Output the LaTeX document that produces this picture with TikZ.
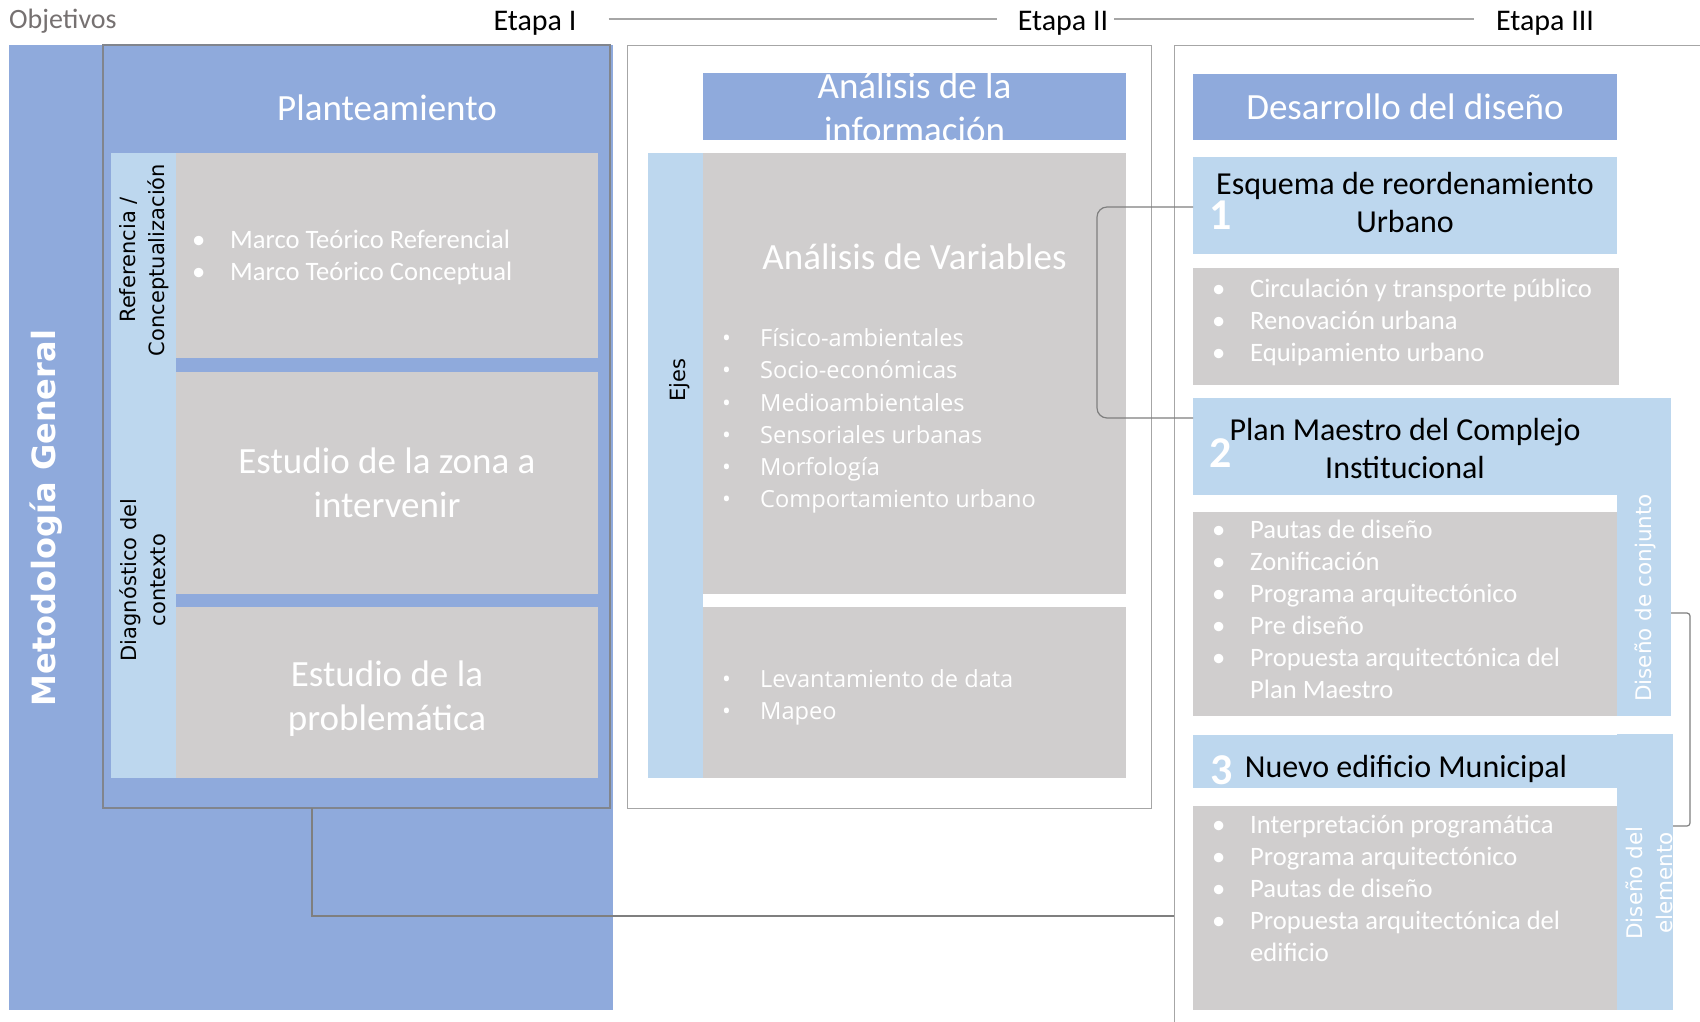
\documentclass[tikz,border=0pt]{standalone}
\usepackage{fontspec}
\usepackage{xcolor}
\usepackage{tikz}
\usetikzlibrary{positioning}
\setmainfont{Carlito}
\newfontfamily\dejavu{DejaVu Sans}
\newfontfamily\opensans{Open Sans}

\definecolor{azulfuerte}{HTML}{8FAADC}
\definecolor{azulclaro}{HTML}{BDD7EE}
\definecolor{grisbox}{HTML}{D0CECE}
\definecolor{grislinea}{HTML}{7F7F7F}
\definecolor{grismarco}{HTML}{A6A6A6}
\definecolor{grisobj}{HTML}{767171}

\newcommand{\tam}[2]{\fontsize{#1}{#2}\selectfont}
\newcommand{\itm}{\makebox[38pt][l]{•}}

\tikzset{
  caja/.style={rectangle, inner sep=0pt, outer sep=0pt},
  azul/.style={caja, fill=azulfuerte},
  celeste/.style={caja, fill=azulclaro},
  gris/.style={caja, fill=grisbox},
  titulo/.style={text=white, font=\tam{37}{44}, align=center},
  lista/.style={text=white, font=\tam{26.6}{32}, align=left, anchor=west, inner sep=0pt},
  lado/.style={rotate=90, font=\dejavu\tam{21}{29}, align=center, inner sep=0pt},
  etapa/.style={font=\tam{30}{36}, inner sep=0pt},
  numero/.style={text=white, font=\bfseries\tam{44}{44}, inner sep=0pt},
  conector/.style={draw=grislinea, line width=1.2pt},
  marco/.style={caja, draw=grismarco, line width=1pt},
}

\begin{document}
\begin{tikzpicture}[x=1pt, y=-1pt]
    \useasboundingbox (0,0) rectangle (1700,1021);
    \fill[white] (0,0) rectangle (1700,1021);

    % encabezado
    \node[etapa, text=grisobj, font=\tam{28}{34}, anchor=west] (objetivos) at (9,21) {Objetivos};
    \node[etapa] (t1) at (535,23) {Etapa I};
    \node[etapa] (t2) at (1063,23) {Etapa II};
    \node[etapa] (t3) at (1545,23) {Etapa III};
    \draw[grismarco, line width=1.5pt] ([xshift=32pt,yshift=4pt]t1.east) -- ([xshift=-21pt,yshift=4pt]t2.west);
    \draw[grismarco, line width=1.5pt] ([xshift=6pt,yshift=4pt]t2.east) -- ([xshift=-22pt,yshift=4pt]t3.west);

    % Etapa I
    \node[azul, minimum width=604pt, minimum height=965pt] (metodologia) at (311,527.5) {};
    \node[lado, text=white, font=\dejavu\bfseries\tam{32}{38}] (metodo) at (46,518) {Metodología General};
    \node[caja, draw=grislinea!85!azulfuerte, line width=1.2pt, minimum width=507pt, minimum height=763pt] (etapa1) at (356.5,426.5) {};
    \node[titulo] (planteamiento) at (387,108) {Planteamiento};
    \node[celeste, minimum width=65pt, minimum height=625pt] (ladoI) at (143.5,465.5) {};
    \node[gris, minimum width=422pt, minimum height=205pt] (marco) at (387,255.5) {};
    \node[gris, titulo, minimum width=422pt, minimum height=222pt] (zona) at (387,483) {Estudio de la zona a\\intervenir};
    \node[gris, minimum width=422pt, minimum height=171pt] (problema) at (387,692.5) {};
    \node[titulo] (problematxt) at (387,699) {Estudio de la\\problemática};
    \node[lista] (marcolista) at (192,257) {\itm Marco Teórico Referencial\\ \itm Marco Teórico Conceptual};
    \node[lado] (referencia) at (144,260) {Referencia /\\Conceptualización};
    \node[lado] (diagnostico) at (143,580) {Diagnóstico del\\contexto};

    % Etapa II
    \node[marco, minimum width=524pt, minimum height=763pt] (etapa2) at (889,426.5) {};
    \node[azul, minimum width=423pt, minimum height=67pt] (analisis) at (914.5,106.5) {};
    \node[titulo] (analisistxt) at (914.5,108) {Análisis de la\\información};
    \node[celeste, minimum width=55pt, minimum height=625pt] (ejes) at (675.5,465.5) {};
    \node[lado] (ejestxt) at (680,380) {Ejes};
    \node[gris, minimum width=423pt, minimum height=441pt] (variables) at (914.5,373.5) {};
    \node[titulo] (variablestxt) at (914.5,257) {Análisis de Variables};
    \node[lista, font=\opensans\tam{23.6}{32.2}] (variableslista) at (722,421) {\itm Físico-ambientales\\ \itm Socio-económicas\\ \itm Medioambientales\\ \itm Sensoriales urbanas\\ \itm Morfología\\ \itm Comportamiento urbano};
    \node[gris, minimum width=423pt, minimum height=171pt] (levantamiento) at (914.5,692.5) {};
    \node[lista, font=\opensans\tam{23.6}{32}] (levantamientolista) at (722,697) {\itm Levantamiento de data\\ \itm Mapeo};

    % Etapa III
    \node[marco, minimum width=586pt, minimum height=1035pt] (etapa3) at (1467,562.5) {};
    \node[azul, titulo, minimum width=424pt, minimum height=66pt] (desarrollo) at (1405,107) {Desarrollo del diseño};
    \node[celeste, minimum width=424pt, minimum height=97pt] (esquema) at (1405,205.5) {};
    \node[align=center, font=\tam{32}{38}, inner sep=0pt] (esquematxt) at (1405,203) {Esquema de reordenamiento\\Urbano};
    \node[numero] (num1) at (1221,215) {1};
    \node[gris, minimum width=426pt, minimum height=117pt] (esquemalista) at (1406,326.5) {};
    \node[lista] (esquemaitems) at (1212,322) {\itm Circulación y transporte público\\ \itm Renovación urbana\\ \itm Equipamiento urbano};

    \node[celeste, minimum width=424pt, minimum height=97pt] (plan) at (1405,446.5) {};
    \node[align=center, font=\tam{32}{38}, inner sep=0pt] (plantxt) at (1405,448) {Plan Maestro del Complejo\\Institucional};
    \node[numero] (num2) at (1221,453) {2};
    \node[celeste, minimum width=54pt, minimum height=318pt] (conjunto) at (1644,557) {};
    \node[lado, text=white, font=\dejavu\tam{21.5}{29}] (conjuntotxt) at (1645,598) {Diseño de conjunto};
    \node[gris, minimum width=424pt, minimum height=204pt] (planlista) at (1405,614) {};
    \node[lista] (planitems) at (1212,609.5) {\itm Pautas de diseño\\ \itm Zonificación\\ \itm Programa arquitectónico\\ \itm Pre diseño\\ \itm Propuesta arquitectónica del\\ \hspace*{38pt}Plan Maestro};

    \node[celeste, minimum width=424pt, minimum height=53pt] (edificio) at (1405,761.5) {};
    \node[font=\tam{32}{38}, inner sep=0pt] (edificiotxt) at (1406,769) {Nuevo edificio Municipal};
    \node[numero] (num3) at (1222,770) {3};
    \node[celeste, minimum width=56pt, minimum height=276pt] (elemento) at (1645,872) {};
    \node[lado, text=white, font=\dejavu\tam{21.5}{30}] (elementotxt) at (1649,883) {Diseño del\\elemento};
    \node[gris, minimum width=424pt, minimum height=204pt] (edilista) at (1405,908) {};
    \node[lista] (ediitems) at (1212,888) {\itm Interpretación programática\\ \itm Programa arquitectónico\\ \itm Pautas de diseño\\ \itm Propuesta arquitectónica del\\ \hspace*{38pt}edificio};

    % conectores
    \coordinate (codo1) at (1097,300);
    \draw[conector, rounded corners=10pt] ([yshift=-1.5pt]esquema.west) -| (codo1) |- ([yshift=28.5pt]plan.west);
    \coordinate (codo2) at (1690,700);
    \draw[conector, rounded corners=3pt] ([yshift=-56pt]conjunto.east) -| (codo2) |- ([yshift=46pt]elemento.east);
    \coordinate (llegada) at (1174,916);
    \draw[conector] ([xshift=-44.5pt]etapa1.south) |- (llegada);
\end{tikzpicture}
\end{document}
